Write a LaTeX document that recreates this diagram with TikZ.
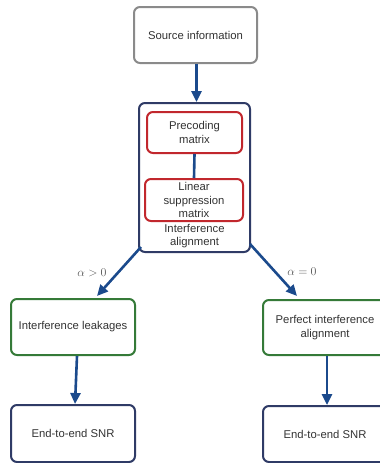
\documentclass[tikz,border=0pt]{standalone}
\usepackage{fontspec}
\setmainfont{Liberation Sans}
\usetikzlibrary{arrows.meta}
\definecolor{boxgray}{HTML}{8A8A8A}
\definecolor{boxnavy}{HTML}{2F3B66}
\definecolor{boxred}{HTML}{C1272D}
\definecolor{boxgreen}{HTML}{357A38}
\definecolor{linkblue}{HTML}{1B4A8C}
\definecolor{txt}{HTML}{333333}
\definecolor{mathgray}{HTML}{555555}
\tikzset{
  box/.style={draw, line width=2pt, rounded corners=6pt, fill=white,
    align=center, inner sep=2pt, text=txt,
    font=\fontsize{11.3}{13.5}\selectfont},
  graybox/.style={box, draw=boxgray},
  navybox/.style={box, draw=boxnavy},
  redbox/.style={box, draw=boxred},
  greenbox/.style={box, draw=boxgreen},
  flow/.style={draw=linkblue, line width=2.6pt,
    -{Triangle[length=11pt,width=10pt]}},
  link/.style={draw=linkblue, line width=2.6pt},
  caselabel/.style={text=mathgray, font=\fontsize{12.5}{14}\selectfont},
  plain/.style={text=txt, align=center, font=\fontsize{11.3}{13}\selectfont}
}
\begin{document}
\begin{tikzpicture}[x=1pt,y=1pt]
\useasboundingbox (0,0) rectangle (380,-463);
\clip (0,0) rectangle (380,-463);

% source and alignment stage
\node[graybox, minimum width=123pt, minimum height=56pt] (src) at (195.5,-35) {Source information};
\node[navybox, minimum width=111pt, minimum height=149pt] (ia) at (194.5,-177.5) {};
\node[redbox, minimum width=95pt, minimum height=41pt] (pre) at (194.5,-132.5) {Precoding\\matrix};
\node[redbox, minimum width=98pt, minimum height=42pt] (sup) at (194,-200) {Linear\\suppression\\matrix};
\node[plain] (ialabel) at (194.5,-236.5) {Interference\\alignment};

% two branches
\node[greenbox, minimum width=124pt, minimum height=56pt] (leak) at (73,-327) {Interference leakages};
\node[greenbox, minimum width=124pt, minimum height=55pt] (perf) at (325,-327.5) {Perfect interference\\alignment};
\node[navybox, minimum width=124pt, minimum height=57pt] (snrl) at (73,-433.5) {End-to-end SNR};
\node[navybox, minimum width=124pt, minimum height=56pt] (snrr) at (325,-434) {End-to-end SNR};

\node[caselabel] (lblpos) at (92,-273) {$\alpha>0$};
\node[caselabel] (lblzero) at (302,-272) {$\alpha=0$};

% connectors
\draw[flow] ([xshift=1pt]src.south) -- ([xshift=2pt]ia.north);
\draw[link] (pre.south) -- (sup.north);
\draw[flow] ([shift={(3pt,6pt)}]ia.south west) -- ([shift={(24pt,2pt)}]leak.north);
\draw[flow] ([shift={(-1pt,9pt)}]ia.south east) -- ([shift={(-28pt,3pt)}]perf.north);
\draw[flow] ([xshift=4pt]leak.south) -- ([xshift=2pt]snrl.north);
\draw[flow] ([xshift=2pt]perf.south) -- ([xshift=2pt]snrr.north);
\end{tikzpicture}
\end{document}
